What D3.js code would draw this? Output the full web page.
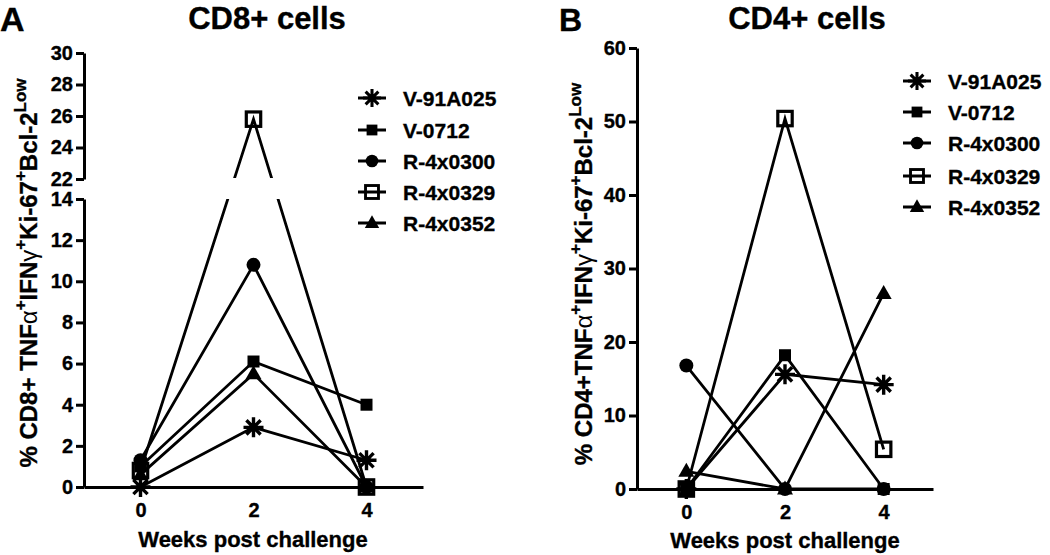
<!DOCTYPE html>
<html><head><meta charset="utf-8">
<script src="https://cdn.jsdelivr.net/npm/d3@7"></script>
<style>
html,body{margin:0;padding:0;background:#fff;}
svg text{font-family:"Liberation Sans",Arial,sans-serif;font-weight:bold;fill:#000;stroke:#000;stroke-width:0.35px;}
</style></head>
<body>
<svg id="chart" width="1050" height="555"></svg>
<script>
// ---- data ----
const weeks = [0, 2, 4];
const seriesNames = ["V-91A025", "V-0712", "R-4x0300", "R-4x0329", "R-4x0352"];
const seriesMarkers = ["asterisk", "square", "circle", "osquare", "triangle"];
const cd8Values = [
  [0, 2.9, 1.3],
  [1.0, 6.1, 4.0],
  [1.3, 10.8, 0],
  [0.8, 25.8, 0],
  [0.6, 5.5, 0]
];
const cd4Values = [
  [0, 15.6, 14.2],
  [0, 18.2, 0],
  [16.8, 0, 0],
  [0, 50.4, 5.4],
  [2.4, 0, 26.6]
];
const cd8LowerTicks = [0, 2, 4, 6, 8, 10, 12, 14];
const cd8UpperTicks = [22, 24, 26, 28, 30];
const cd4Ticks = [0, 10, 20, 30, 40, 50, 60];
const xTickLabels = ["0", "2", "4"];

const svg = d3.select("#chart");

function drawMarker(g, type, x, y, s) {
  s = s || 1;
  const m = g.append("g").attr("transform", `translate(${x},${y}) scale(${s})`);
  if (type === "asterisk") {
    const a = 10, d = 7.1;
    m.append("path").attr("d", `M${-a},0L${a},0M0,${-a}L0,${a}M${-d},${-d}L${d},${d}M${-d},${d}L${d},${-d}`)
      .attr("stroke", "#000").attr("stroke-width", 3.4).attr("fill", "none");
  } else if (type === "square") {
    m.append("rect").attr("x", -6).attr("y", -6).attr("width", 12).attr("height", 12).attr("fill", "#000");
  } else if (type === "circle") {
    m.append("circle").attr("r", 7).attr("fill", "#000");
  } else if (type === "osquare") {
    m.append("rect").attr("x", -7.2).attr("y", -7.2).attr("width", 14.4).attr("height", 14.4)
      .attr("fill", "none").attr("stroke", "#000").attr("stroke-width", 3.2);
  } else if (type === "triangle") {
    m.append("path").attr("d", "M0,-8.5L8,5.5L-8,5.5Z").attr("fill", "#000");
  }
}

function styleAxis(g) {
  g.selectAll("path.domain").attr("stroke", "#000").attr("stroke-width", 3);
  g.selectAll(".tick line").attr("stroke", "#000").attr("stroke-width", 3);
  g.selectAll(".tick text").style("font-size", "20px").style("font-family", '"Liberation Sans",Arial,sans-serif').style("font-weight", "bold");
}

function yTitle(x, y, prefix) {
  const t = svg.append("text").attr("transform", `translate(${x},${y}) rotate(-90)`)
    .attr("text-anchor", "middle").style("font-size", "24px");
  const parts = [
    [prefix, 0], ["α", 0, true], ["+", 1], ["IFN", 0], ["γ", 0, true], ["+", 1],
    ["Ki-67", 0], ["+", 1], ["Bcl-2", 0], ["Low", 1]
  ];
  let raised = false;
  parts.forEach(p => {
    const sp = t.append("tspan").text(p[0]);
    if (p[1] === 1) {
      sp.style("font-size", "17px");
      if (!raised) { sp.attr("dy", -11); raised = true; }
    } else if (raised) { sp.attr("dy", 11); raised = false; }
    if (p[2]) sp.style("font-weight", "normal").style("stroke-width", "0px");
  });
}

function legend(x0, rowsY) {
  seriesNames.forEach((n, i) => {
    const g = svg.append("g");
    const y = rowsY[i];
    g.append("line").attr("x1", x0 - 14).attr("x2", x0 + 14).attr("y1", y).attr("y2", y)
      .attr("stroke", "#000").attr("stroke-width", 3);
    drawMarker(g, seriesMarkers[i], x0, y, 0.9);
    g.append("text").attr("x", x0 + 31).attr("y", y + 7.5).style("font-size", "21px").text(n);
  });
}

// ---------------- Panel A ----------------
const xA = d3.scaleLinear().domain([-1, 5]).range([84, 423]);
const yA = d3.scaleLinear().domain([0, 14, 22, 30]).range([487, 199, 179, 53]);
const yALower = d3.scaleLinear().domain([0, 14]).range([487, 199]);
const yAUpper = d3.scaleLinear().domain([22, 30]).range([179, 53]);

const gAL = svg.append("g").attr("transform", `translate(${xA(-1)},0)`)
  .call(d3.axisLeft(yALower).tickValues(cd8LowerTicks).tickSize(8).tickSizeOuter(0).tickPadding(3));
styleAxis(gAL);
const gAU = svg.append("g").attr("transform", `translate(${xA(-1)},0)`)
  .call(d3.axisLeft(yAUpper).tickValues(cd8UpperTicks).tickSize(8).tickSizeOuter(0).tickPadding(3));
styleAxis(gAU);
const gAX = svg.append("g").attr("transform", `translate(0,${yA(0)})`)
  .call(d3.axisBottom(xA).tickValues(weeks).tickFormat((d, i) => xTickLabels[i]).tickSize(0).tickSizeOuter(0).tickPadding(16));
styleAxis(gAX);

const defs = svg.append("defs");
const clipA = defs.append("clipPath").attr("id", "clipA");
clipA.append("rect").attr("x", 0).attr("y", 0).attr("width", 440).attr("height", yAUpper(22) - 1);
clipA.append("rect").attr("x", 0).attr("y", yALower(14)).attr("width", 440).attr("height", 555 - yALower(14));

const lineA = d3.line().x((d, i) => xA(weeks[i])).y(d => yA(d));
const linesA = svg.append("g").attr("clip-path", "url(#clipA)");
cd8Values.forEach(vals => {
  linesA.append("path").attr("d", lineA(vals)).attr("fill", "none").attr("stroke", "#000").attr("stroke-width", 2.8);
});
const marksA = svg.append("g");
cd8Values.forEach((vals, si) => {
  vals.forEach((v, i) => drawMarker(marksA, seriesMarkers[si], xA(weeks[i]), yA(v)));
});

svg.append("text").attr("x", 0).attr("y", 31).style("font-size", "34px").text("A");
svg.append("text").attr("x", 267).attr("y", 29).attr("text-anchor", "middle").style("font-size", "31px").text("CD8+ cells");
svg.append("text").attr("x", 253).attr("y", 547).attr("text-anchor", "middle").style("font-size", "22px").text("Weeks post challenge");
yTitle(37, 273, "% CD8+ TNF");
legend(372, [98, 130, 161, 192, 223]);

// ---------------- Panel B ----------------
const xB = d3.scaleLinear().domain([-1, 5]).range([637, 933]);
const yB = d3.scaleLinear().domain([0, 60]).range([489, 48]);

const gBY = svg.append("g").attr("transform", `translate(${xB(-1)},0)`)
  .call(d3.axisLeft(yB).tickValues(cd4Ticks).tickSize(8).tickSizeOuter(0).tickPadding(3));
styleAxis(gBY);
const gBX = svg.append("g").attr("transform", `translate(0,${yB(0)})`)
  .call(d3.axisBottom(xB).tickValues(weeks).tickFormat((d, i) => xTickLabels[i]).tickSize(0).tickSizeOuter(0).tickPadding(16));
styleAxis(gBX);

const lineB = d3.line().x((d, i) => xB(weeks[i])).y(d => yB(d));
const linesB = svg.append("g");
cd4Values.forEach(vals => {
  linesB.append("path").attr("d", lineB(vals)).attr("fill", "none").attr("stroke", "#000").attr("stroke-width", 2.8);
});
const marksB = svg.append("g");
cd4Values.forEach((vals, si) => {
  vals.forEach((v, i) => drawMarker(marksB, seriesMarkers[si], xB(weeks[i]), yB(v)));
});

svg.append("text").attr("x", 559).attr("y", 31).style("font-size", "32px").text("B");
svg.append("text").attr("x", 807).attr("y", 29).attr("text-anchor", "middle").style("font-size", "31px").text("CD4+ cells");
svg.append("text").attr("x", 785).attr("y", 548).attr("text-anchor", "middle").style("font-size", "22px").text("Weeks post challenge");
yTitle(592, 274, "% CD4+TNF");
legend(917, [81, 112, 143, 176, 207]);
</script>
</body></html>
